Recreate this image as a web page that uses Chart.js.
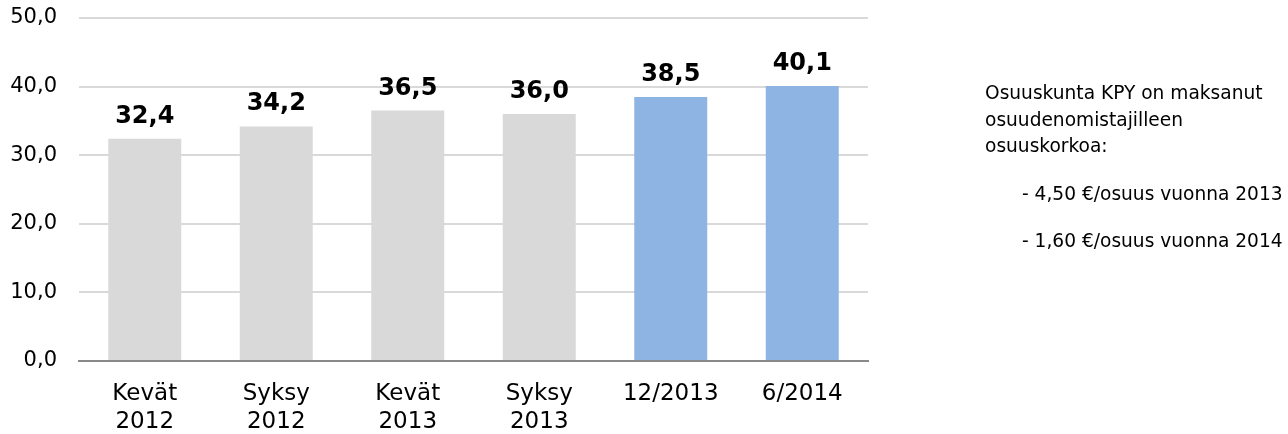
<!DOCTYPE html>
<html>
<head>
<meta charset="utf-8">
<script src="https://cdn.jsdelivr.net/npm/chart.js@4.4.1/dist/chart.umd.min.js"></script>
<style>
  html, body { margin: 0; padding: 0; background: #ffffff; }
  #wrap { position: relative; width: 1288px; height: 434px; }
  #note { position: absolute; left: 985px; top: 80px; font-family: "DejaVu Sans", Verdana, sans-serif; font-size: 18.6px; color: #000; line-height: 26.5px; white-space: nowrap; }
  #note p { margin: 0; }
  #note .item { margin-top: 21px; padding-left: 37px; }
</style>
</head>
<body>
<div id="wrap">
  <canvas id="c" width="1288" height="434"></canvas>
  <div id="note">
    <p>Osuuskunta KPY on maksanut<br>osuudenomistajilleen<br>osuuskorkoa:</p>
    <p class="item">- 4,50 €/osuus vuonna 2013</p>
    <p class="item">- 1,60 €/osuus vuonna 2014</p>
  </div>
</div>
<script>
const categories = [["Kevät", "2012"], ["Syksy", "2012"], ["Kevät", "2013"], ["Syksy", "2013"], "12/2013", "6/2014"];
const values = [32.4, 34.2, 36.5, 36.0, 38.5, 40.1];
const barColors = ["#D9D9D9", "#D9D9D9", "#D9D9D9", "#D9D9D9", "#8EB4E3", "#8EB4E3"];
const yTicks = [0, 10, 20, 30, 40, 50];

const FONT = '"DejaVu Sans", Verdana, sans-serif';
const fmt = v => v.toFixed(1).replace('.', ',');

const valueLabels = {
  id: 'valueLabels',
  afterDatasetsDraw(chart) {
    const ctx = chart.ctx;
    const meta = chart.getDatasetMeta(0);
    ctx.save();
    ctx.font = 'bold 24px ' + FONT;
    ctx.fillStyle = '#000';
    ctx.textAlign = 'center';
    ctx.textBaseline = 'alphabetic';
    meta.data.forEach((bar, i) => {
      ctx.fillText(fmt(values[i]), bar.x, bar.y - 16);
    });
    ctx.restore();
  }
};

new Chart(document.getElementById('c'), {
  type: 'bar',
  data: {
    labels: categories,
    datasets: [{
      data: values,
      backgroundColor: barColors,
      borderWidth: 0,
      barPercentage: 0.555,
      categoryPercentage: 1.0
    }]
  },
  options: {
    responsive: false,
    animation: false,
    devicePixelRatio: 1,
    layout: { padding: { top: 18, right: 420, bottom: 0, left: 0 } },
    plugins: { legend: { display: false }, tooltip: { enabled: false } },
    scales: {
      x: {
        grid: { display: false, drawTicks: false },
        border: { display: true, color: '#898989', width: 2 },
        ticks: {
          color: '#000',
          font: { family: FONT, size: 23, lineHeight: 1.22 },
          padding: 19,
          maxRotation: 0,
          autoSkip: false
        },
        afterFit(scale) { scale.height = 73; scale.paddingLeft = 0; scale.paddingRight = 0; }
      },
      y: {
        min: 0,
        max: 50,
        afterBuildTicks(scale) { scale.ticks = yTicks.map(v => ({ value: v })); },
        grid: {
          drawTicks: false,
          color: ctx => (ctx.tick && ctx.tick.value === 0) ? 'rgba(0,0,0,0)' : '#D9D9D9',
          lineWidth: 2
        },
        border: { display: false },
        ticks: {
          color: '#000',
          font: { family: FONT, size: 21 },
          padding: 22,
          callback: v => fmt(v)
        },
        afterFit(scale) { scale.width = 79; scale.paddingTop = 0; scale.paddingBottom = 0; }
      }
    }
  },
  plugins: [valueLabels]
});
</script>
</body>
</html>
